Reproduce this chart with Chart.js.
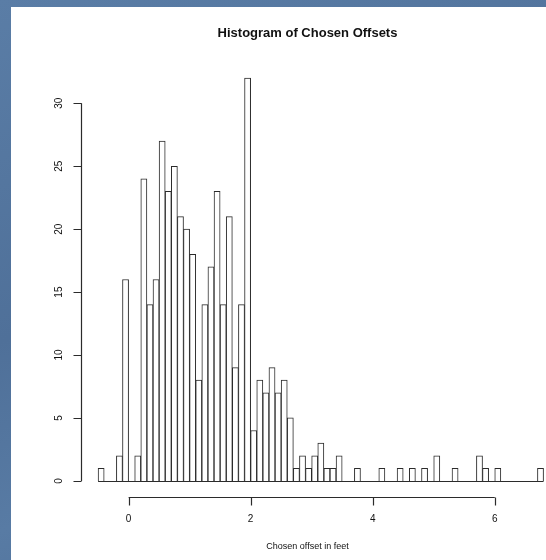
<!DOCTYPE html>
<html>
<head>
<meta charset="utf-8">
<title>Histogram of Chosen Offsets</title>
<script src="https://cdn.jsdelivr.net/npm/chart.js@4.4.1/dist/chart.umd.min.js"></script>
<style>
    html, body {
        margin: 0;
        padding: 0;
        width: 546px;
        height: 560px;
        overflow: hidden;
        background: linear-gradient(160deg, #5a7da6 0%, #4f7099 45%, #587ba4 70%, #4b6c95 100%);
    }
    #panel {
        position: absolute;
        left: 11px;
        top: 7px;
        width: 535px;
        height: 553px;
        background: #ffffff;
    }
    #hist_chart {
        display: block;
    }
</style>
</head>
<body>
<div id="panel">
    <canvas id="hist_chart" width="535" height="553"></canvas>
</div>
<script>
// histogram bins: 0.1 ft wide, starting at -0.5 ft
const binStart = -0.5;
const binWidth = 0.1;
const counts = [
    1, 0, 0, 2, 16, 0, 2, 24, 14, 16,
    27, 23, 25, 21, 20, 18, 8, 14, 17, 23,
    14, 21, 9, 14, 32, 4, 8, 7, 9, 7,
    8, 5, 1, 2, 1, 2, 3, 1, 1, 2,
    0, 0, 1, 0, 0, 0, 1, 0, 0, 1,
    0, 1, 0, 1, 0, 2, 0, 0, 1, 0,
    0, 0, 2, 1, 0, 1, 0, 0, 0, 0,
    0, 0, 1
];
const xTicks = [0, 2, 4, 6];
const yTicks = [0, 5, 10, 15, 20, 25, 30];
const titleText = 'Histogram of Chosen Offsets';
const xLabelText = 'Chosen offset in feet';

const lineColor = '#2b2b2b';

let bars = counts.map(function (c, i) {
    return {x: binStart + (i + 0.5) * binWidth, y: c};
});

// R-style axes: detached lines that only span the tick range
const rAxes = {
    id: 'rAxes',
    afterDatasetsDraw: function (chart) {
        const ctx = chart.ctx;
        const area = chart.chartArea;
        const xs = chart.scales.x;
        const ys = chart.scales.y;
        ctx.save();
        ctx.strokeStyle = lineColor;
        ctx.fillStyle = '#111';
        ctx.lineWidth = 1.2;

        // baseline under the empty bins
        let y0 = Math.round(ys.getPixelForValue(0)) + 0.5;
        ctx.beginPath();
        ctx.moveTo(xs.getPixelForValue(binStart), y0);
        ctx.lineTo(xs.getPixelForValue(binStart + counts.length * binWidth), y0);
        ctx.stroke();

        // x axis
        let ax = area.bottom + 0.5;
        ctx.beginPath();
        ctx.moveTo(xs.getPixelForValue(xTicks[0]), ax);
        ctx.lineTo(xs.getPixelForValue(xTicks[xTicks.length - 1]), ax);
        xTicks.forEach(function (t) {
            let px = Math.round(xs.getPixelForValue(t)) + 0.5;
            ctx.moveTo(px, ax);
            ctx.lineTo(px, ax + 8);
        });
        ctx.stroke();
        ctx.font = '10px "Liberation Sans", Arial, sans-serif';
        ctx.textAlign = 'center';
        ctx.textBaseline = 'middle';
        xTicks.forEach(function (t) {
            ctx.fillText(String(t), xs.getPixelForValue(t), ax + 22);
        });

        // y axis
        let ay = area.left + 0.5;
        ctx.beginPath();
        ctx.moveTo(ay, ys.getPixelForValue(yTicks[0]));
        ctx.lineTo(ay, ys.getPixelForValue(yTicks[yTicks.length - 1]));
        yTicks.forEach(function (t) {
            let py = Math.round(ys.getPixelForValue(t)) + 0.5;
            ctx.moveTo(ay, py);
            ctx.lineTo(ay - 8, py);
        });
        ctx.stroke();
        yTicks.forEach(function (t) {
            ctx.save();
            ctx.translate(ay - 22, ys.getPixelForValue(t));
            ctx.rotate(-Math.PI / 2);
            ctx.fillText(String(t), 0, 0);
            ctx.restore();
        });

        // title and axis label
        let mid = 296.5;
        ctx.font = 'bold 13px "Liberation Sans", Arial, sans-serif';
        ctx.fillText(titleText, mid, 26);
        ctx.font = '9px "Liberation Sans", Arial, sans-serif';
        ctx.fillText(xLabelText, mid, 540);
        ctx.restore();
    }
};

new Chart(document.getElementById('hist_chart'), {
    type: 'bar',
    data: {
        datasets: [{
            label: 'Count',
            data: bars,
            backgroundColor: '#ffffff',
            borderColor: lineColor,
            borderWidth: 1,
            borderSkipped: 'start',
            barPercentage: 1.0,
            categoryPercentage: 1.0
        }]
    },
    options: {
        responsive: false,
        animation: false,
        events: [],
        layout: {
            padding: {left: 70, right: 0, top: 55, bottom: 63}
        },
        scales: {
            x: {
                type: 'linear',
                min: -0.78,
                max: 6.84,
                offset: false,
                display: false
            },
            y: {
                min: -1.28,
                max: 33.28,
                display: false
            }
        },
        plugins: {
            legend: {display: false},
            tooltip: {enabled: false},
            title: {display: false}
        }
    },
    plugins: [rAxes]
});
</script>
</body>
</html>
